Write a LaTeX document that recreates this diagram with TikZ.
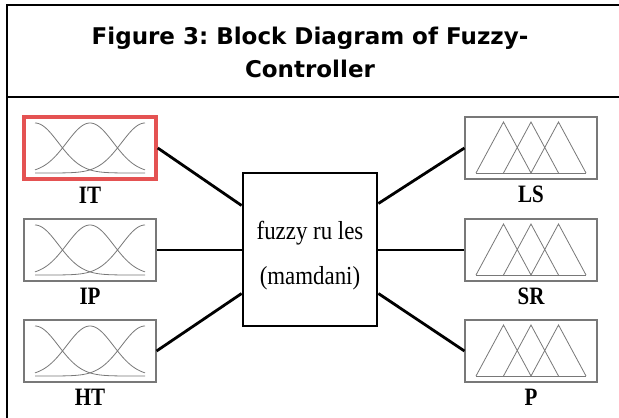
\documentclass[tikz,border=0pt]{standalone}
\usepackage{fontspec}
\setmainfont{Liberation Serif}
\newfontfamily\titlefont{DejaVu Sans}
\usetikzlibrary{positioning}
\usetikzlibrary{calc}

\definecolor{curvegray}{RGB}{120,120,120}
\definecolor{markred}{RGB}{228,82,82}

\begin{document}
\frenchspacing
\begin{tikzpicture}[x=1pt, y=-1pt,
    mfbox/.style={draw=curvegray, line width=1.1pt, minimum width=132pt, minimum height=62pt, inner sep=0pt},
    rulebox/.style={draw=black, line width=2.8pt, minimum width=134pt, minimum height=153pt},
    ruletext/.style={align=center, font=\fontsize{26}{45}\selectfont, xscale=0.88, inner sep=0pt},
    varlabel/.style={font=\bfseries\fontsize{25}{25}\selectfont, xscale=0.84, inner sep=0pt},
    link/.style={line width=2.8pt, black},
    mfcurve/.style={curvegray, line width=0.8pt}
]
    \useasboundingbox (0,0) rectangle (619,418);
    \fill[white] (0,0) rectangle (619,418);

    % Table frame
    % - [Title cell]
    \draw[line width=1.2pt] (7,418) -- (7,5) -- (619,5);
    \draw[line width=1.2pt] (7,97) -- (619,97);
    \node at (310,52) [align=center, font=\titlefont\bfseries\fontsize{23}{33}\selectfont] (title)
        {Figure 3: Block Diagram of Fuzzy-\\Controller};

    % Rule block
    \node at (310,249.5) [rulebox] (rules) {};
    \node at ([yshift=-6pt] rules.center) [ruletext] (rules_text) {fuzzy ru les\\(mamdani)};

    % Inputs
    % - [Gaussian membership boxes]
    \node at (90,148) [mfbox, draw=markred, line width=3.5pt] (it) {};
    \node at (90,250) [mfbox] (ip) {};
    \node at (90,351) [mfbox] (ht) {};
    \node [varlabel, below=6pt of it] (it_label) {IT};
    \node [varlabel, below=6pt of ip] (ip_label) {IP};
    \node [varlabel, below=6pt of ht] (ht_label) {HT};
    % -- the three bells in each box
    \foreach \inbox in {it, ip, ht} {
        \begin{scope}[shift={(\inbox.center)}]
            \draw[mfcurve] plot[domain=-55:55, samples=70, smooth] (\x, {25-50*exp(-((\x+55)*(\x+55))/1095)});
            \draw[mfcurve] plot[domain=-55:55, samples=70, smooth] (\x, {25-50*exp(-((\x)*(\x))/1095)});
            \draw[mfcurve] plot[domain=-55:55, samples=70, smooth] (\x, {25-50*exp(-((\x-55)*(\x-55))/1095)});
        \end{scope}
    }

    % Outputs
    % - [Triangular membership boxes]
    \node at (531,148) [mfbox] (ls) {};
    \node at (531,250) [mfbox] (sr) {};
    \node at (531,351) [mfbox] (p) {};
    \node [varlabel, below=6pt of ls] (ls_label) {LS};
    \node [varlabel, below=6pt of sr] (sr_label) {SR};
    \node [varlabel, below=6pt of p] (p_label) {P};
    % -- the three triangles in each box
    \foreach \outbox in {ls, sr, p} {
        \begin{scope}[shift={(\outbox.center)}]
            \draw[mfcurve] (-55,25) -- (55,25);
            \draw[mfcurve] (-55,25) -- (-27.5,-26) -- (0,25);
            \draw[mfcurve] (-27.5,25) -- (0,-26) -- (27.5,25);
            \draw[mfcurve] (0,25) -- (27.5,-26) -- (55,25);
        \end{scope}
    }

    % Connections to the rule block
    \draw[link] (it.east) -- ([yshift=44pt] rules.west);
    \draw[link] (ip.east) -- (ip.east -| rules.west);
    \draw[link] (ht.east) -- ([yshift=-44pt] rules.west);
    \draw[link] ([yshift=46pt] rules.east) -- (ls.west);
    \draw[link] (sr.west -| rules.east) -- (sr.west);
    \draw[link] ([yshift=-44pt] rules.east) -- (p.west);

\end{tikzpicture}
\end{document}
